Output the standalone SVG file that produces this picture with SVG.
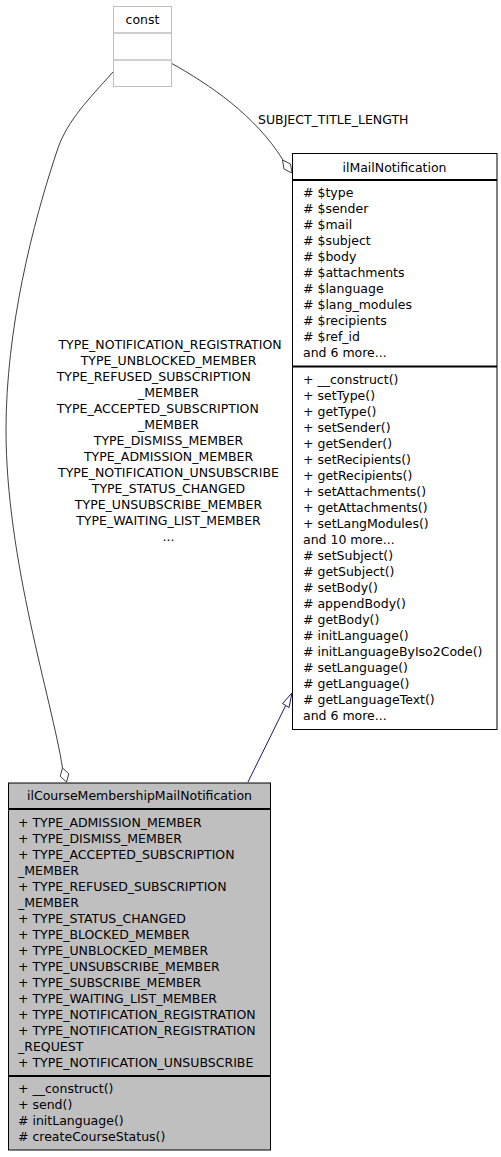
<svg xmlns="http://www.w3.org/2000/svg" width="501" height="1157" viewBox="0 0 501 1157">
<style>
text{font-family:"DejaVu Sans","Liberation Sans",sans-serif;font-size:12.5px;fill:#000}
.box{fill:#fff;stroke:#000;stroke-width:1}
.gbox{fill:#bfbfbf;stroke:#000;stroke-width:1}
.div{stroke:#000;stroke-width:2}
.cbox{fill:#fff;stroke:#bfbfbf;stroke-width:1}
.cdiv{stroke:#bfbfbf;stroke-width:1.5}
.agg{fill:none;stroke:#404040;stroke-width:1}
.aggh{fill:#fff;stroke:#404040;stroke-width:1}
.inh{fill:none;stroke:#191970;stroke-width:1}
.inhh{fill:#fff;stroke:#191970;stroke-width:1}
.c{text-anchor:middle}
</style>
<rect width="501" height="1157" fill="#fff"/>
<g id="connectors">
<path class="agg" d="M171,63 C210,85 255,115 283,160"/>
<polygon class="aggh" points="292,173 290.5,164 282.5,160 284,169"/>
<text x="258" y="124">SUBJECT_TITLE_LENGTH</text>
<path class="agg" d="M113,72 C88,100 68,120 58,148 C32,225 6,330 6,430 C6,560 52,700 62.5,768"/>
<polygon class="aggh" points="62.5,768 68.8,773.8 66.5,782 60.2,776.2"/>
<g class="c">
<text x="170" y="349">TYPE_NOTIFICATION_REGISTRATION</text>
<text x="168.5" y="365">TYPE_UNBLOCKED_MEMBER</text>
<text x="56.7" y="381" text-anchor="start">TYPE_REFUSED_SUBSCRIPTION</text>
<text x="168.5" y="397">_MEMBER</text>
<text x="56.7" y="413" text-anchor="start">TYPE_ACCEPTED_SUBSCRIPTION</text>
<text x="168.5" y="429">_MEMBER</text>
<text x="168.5" y="445">TYPE_DISMISS_MEMBER</text>
<text x="168.5" y="461">TYPE_ADMISSION_MEMBER</text>
<text x="168.5" y="477">TYPE_NOTIFICATION_UNSUBSCRIBE</text>
<text x="168.5" y="493">TYPE_STATUS_CHANGED</text>
<text x="168.5" y="509">TYPE_UNSUBSCRIBE_MEMBER</text>
<text x="168.5" y="525">TYPE_WAITING_LIST_MEMBER</text>
<text x="168.5" y="541">...</text>
</g>
<path class="inh" d="M248,782 L285.7,705.5"/>
<polygon class="inhh" points="292,693 289,707.5 282.5,703.5"/>
</g>
<g id="const">
<rect class="cbox" x="113.5" y="6.5" width="58" height="80"/>
<line class="cdiv" x1="113.5" y1="33" x2="171.5" y2="33"/>
<line class="cdiv" x1="113.5" y1="60" x2="171.5" y2="60"/>
<text class="c" x="142.5" y="24">const</text>
</g>
<g id="ilMailNotification">
<rect class="box" x="292.5" y="153.5" width="204.5" height="576"/>
<line class="div" x1="292.5" y1="180" x2="497" y2="180"/>
<line class="div" x1="292.5" y1="366.5" x2="497" y2="366.5"/>
<text class="c" x="394.5" y="171.5">ilMailNotification</text>
<text x="303" y="197"># $type</text>
<text x="303" y="213"># $sender</text>
<text x="303" y="229"># $mail</text>
<text x="303" y="245"># $subject</text>
<text x="303" y="261"># $body</text>
<text x="303" y="277"># $attachments</text>
<text x="303" y="293"># $language</text>
<text x="303" y="309"># $lang_modules</text>
<text x="303" y="325"># $recipients</text>
<text x="303" y="341"># $ref_id</text>
<text x="303" y="357">and 6 more...</text>
<text x="303" y="384">+ __construct()</text>
<text x="303" y="400">+ setType()</text>
<text x="303" y="416">+ getType()</text>
<text x="303" y="432">+ setSender()</text>
<text x="303" y="448">+ getSender()</text>
<text x="303" y="464">+ setRecipients()</text>
<text x="303" y="480">+ getRecipients()</text>
<text x="303" y="496">+ setAttachments()</text>
<text x="303" y="512">+ getAttachments()</text>
<text x="303" y="528">+ setLangModules()</text>
<text x="303" y="544">and 10 more...</text>
<text x="303" y="560"># setSubject()</text>
<text x="303" y="576"># getSubject()</text>
<text x="303" y="592"># setBody()</text>
<text x="303" y="608"># appendBody()</text>
<text x="303" y="624"># getBody()</text>
<text x="303" y="640"># initLanguage()</text>
<text x="303" y="656"># initLanguageByIso2Code()</text>
<text x="303" y="672"># setLanguage()</text>
<text x="303" y="688"># getLanguage()</text>
<text x="303" y="704"># getLanguageText()</text>
<text x="303" y="720">and 6 more...</text>
</g>
<g id="ilCourseMembershipMailNotification">
<rect class="gbox" x="8.5" y="783" width="262" height="367"/>
<line class="div" x1="8.5" y1="809" x2="270.5" y2="809"/>
<line class="div" x1="8.5" y1="1076" x2="270.5" y2="1076"/>
<text class="c" x="139.5" y="800">ilCourseMembershipMailNotification</text>
<text x="18" y="827">+ TYPE_ADMISSION_MEMBER</text>
<text x="18" y="843">+ TYPE_DISMISS_MEMBER</text>
<text x="18" y="859">+ TYPE_ACCEPTED_SUBSCRIPTION</text>
<text x="18" y="875">_MEMBER</text>
<text x="18" y="891">+ TYPE_REFUSED_SUBSCRIPTION</text>
<text x="18" y="907">_MEMBER</text>
<text x="18" y="923">+ TYPE_STATUS_CHANGED</text>
<text x="18" y="939">+ TYPE_BLOCKED_MEMBER</text>
<text x="18" y="955">+ TYPE_UNBLOCKED_MEMBER</text>
<text x="18" y="971">+ TYPE_UNSUBSCRIBE_MEMBER</text>
<text x="18" y="987">+ TYPE_SUBSCRIBE_MEMBER</text>
<text x="18" y="1003">+ TYPE_WAITING_LIST_MEMBER</text>
<text x="18" y="1019">+ TYPE_NOTIFICATION_REGISTRATION</text>
<text x="18" y="1035">+ TYPE_NOTIFICATION_REGISTRATION</text>
<text x="18" y="1051">_REQUEST</text>
<text x="18" y="1067">+ TYPE_NOTIFICATION_UNSUBSCRIBE</text>
<text x="18" y="1093">+ __construct()</text>
<text x="18" y="1109">+ send()</text>
<text x="18" y="1125"># initLanguage()</text>
<text x="18" y="1141"># createCourseStatus()</text>
</g>
</svg>
